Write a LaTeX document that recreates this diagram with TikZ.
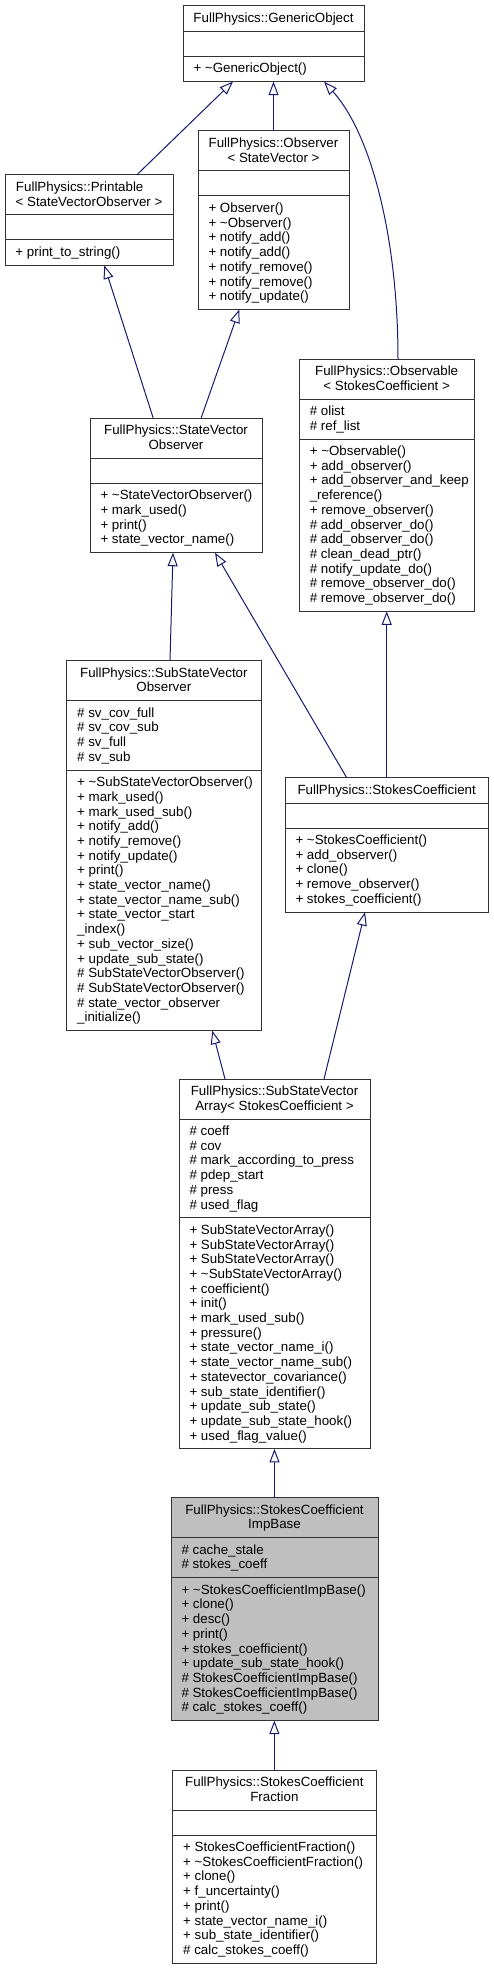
\documentclass[tikz,border=0pt]{standalone}
\usepackage{fontspec}
\setmainfont{Liberation Sans}
\usetikzlibrary{arrows.meta,calc}
\definecolor{edgeblue}{HTML}{191970}
\definecolor{impfill}{HTML}{BFBFBF}
\definecolor{boxline}{HTML}{333333}
\tikzset{
  clsbox/.style={draw=boxline, line width=1pt, inner sep=0pt, outer sep=0pt},
  sepline/.style={draw=boxline, line width=1pt},
  txt/.style={inner sep=0pt, outer sep=0pt, font=\fontsize{13.33}{14.7}\selectfont},
  inh/.style={draw=edgeblue, line width=1pt, -{Triangle[open, length=13.5pt, width=10pt]}},
}
\newcommand\umlbox[6][white]{\node[clsbox, fill=#1, minimum width=#5, minimum height=#6, anchor=north west] (#2) at (#3,#4) {};}
\newcommand\sepl[2]{\draw[sepline] ($(#1.north west)+(0,#2)$) -- ($(#1.north east)+(0,#2)$);}
\newcommand\ctitle[4]{\node[txt, anchor=base] (#1) at ($(#2.north)+(0,#3)$) {#4};}
\newcommand\members[4]{\foreach \mtext [count=\i from 0] in {#4} {\node[txt, anchor=base west] (#2\i) at ($(#1.north west)+(10.5,{#3+16.5+\i*14.7})$) {\mtext};}}
\begin{document}
\begin{tikzpicture}[x=1pt,y=-1pt]
\useasboundingbox (0,0) rectangle (493,1969);

% GenericObject
\umlbox{go}{183}{6}{181}{75.6}
\sepl{go}{25.3}\sepl{go}{50.3}
\ctitle{goT1}{go}{16.5}{FullPhysics::GenericObject}
\members{go}{goM}{50.3}{+ \textasciitilde GenericObject()}

% Printable
\umlbox{pr}{5}{175}{168}{90.3}
\sepl{pr}{40}\sepl{pr}{65}
\node[txt, anchor=base west] (prT1) at ($(pr.north west)+(11,16.5)$) {FullPhysics::Printable};
\ctitle{prT2}{pr}{31.2}{< StateVectorObserver >}
\members{pr}{prM}{65}{+ print\_to\_string()}

% Observer
\umlbox{ob}{198}{131}{151}{178.5}
\sepl{ob}{40}\sepl{ob}{65}
\ctitle{obT1}{ob}{16.5}{FullPhysics::Observer}
\ctitle{obT2}{ob}{31.2}{< StateVector >}
\members{ob}{obM}{65}{+ Observer(), + \textasciitilde Observer(), + notify\_add(), + notify\_add(), + notify\_remove(), + notify\_remove(), + notify\_update()}

% StateVectorObserver
\umlbox{svo}{90}{418.3}{172}{134.4}
\sepl{svo}{40}\sepl{svo}{65}
\ctitle{svoT1}{svo}{16.5}{FullPhysics::StateVector}
\ctitle{svoT2}{svo}{31.2}{Observer}
\members{svo}{svoM}{65}{+ \textasciitilde StateVectorObserver(), + mark\_used(), + print(), + state\_vector\_name()}

% Observable
\umlbox{obs}{299.3}{359}{174.7}{252.3}
\sepl{obs}{40}\sepl{obs}{80}
\ctitle{obsT1}{obs}{16.5}{FullPhysics::Observable}
\ctitle{obsT2}{obs}{31.2}{< StokesCoefficient >}
\members{obs}{obsA}{40}{\# olist, \# ref\_list}
\members{obs}{obsM}{80}{+ \textasciitilde Observable(), + add\_observer(), + add\_observer\_and\_keep, \_reference(), + remove\_observer(), \# add\_observer\_do(), \# add\_observer\_do(), \# clean\_dead\_ptr(), \# notify\_update\_do(), \# remove\_observer\_do(), \# remove\_observer\_do()}

% SubStateVectorObserver
\umlbox{sub}{66.7}{660.7}{194.3}{369.9}
\sepl{sub}{40}\sepl{sub}{109.4}
\ctitle{subT1}{sub}{16.5}{FullPhysics::SubStateVector}
\ctitle{subT2}{sub}{31.2}{Observer}
\members{sub}{subA}{40}{\# sv\_cov\_full, \# sv\_cov\_sub, \# sv\_full, \# sv\_sub}
\members{sub}{subM}{109.4}{+ \textasciitilde SubStateVectorObserver(), + mark\_used(), + mark\_used\_sub(), + notify\_add(), + notify\_remove(), + notify\_update(), + print(), + state\_vector\_name(), + state\_vector\_name\_sub(), + state\_vector\_start, \_index(), + sub\_vector\_size(), + update\_sub\_state(), \# SubStateVectorObserver(), \# SubStateVectorObserver(), \# state\_vector\_observer, \_initialize()}

% StokesCoefficient
\umlbox{sc}{285}{777.7}{203.3}{134.4}
\sepl{sc}{25.3}\sepl{sc}{50.3}
\ctitle{scT1}{sc}{16.5}{FullPhysics::StokesCoefficient}
\members{sc}{scM}{50.3}{+ \textasciitilde StokesCoefficient(), + add\_observer(), + clone(), + remove\_observer(), + stokes\_coefficient()}

% SubStateVectorArray
\umlbox{ssva}{179}{1079}{191}{369.9}
\sepl{ssva}{40}\sepl{ssva}{138.8}
\ctitle{ssvaT1}{ssva}{16.5}{FullPhysics::SubStateVector}
\ctitle{ssvaT2}{ssva}{31.2}{Array< StokesCoefficient >}
\members{ssva}{ssvaA}{40}{\# coeff, \# cov, \# mark\_according\_to\_press, \# pdep\_start, \# press, \# used\_flag}
\members{ssva}{ssvaM}{138.8}{+ SubStateVectorArray(), + SubStateVectorArray(), + SubStateVectorArray(), + \textasciitilde SubStateVectorArray(), + coefficient(), + init(), + mark\_used\_sub(), + pressure(), + state\_vector\_name\_i(), + state\_vector\_name\_sub(), + statevector\_covariance(), + sub\_state\_identifier(), + update\_sub\_state(), + update\_sub\_state\_hook(), + used\_flag\_value()}

% StokesCoefficientImpBase
\umlbox[impfill]{imp}{171}{1497.7}{207}{222.9}
\sepl{imp}{40}\sepl{imp}{80}
\ctitle{impT1}{imp}{16.5}{FullPhysics::StokesCoefficient}
\ctitle{impT2}{imp}{31.2}{ImpBase}
\members{imp}{impA}{40}{\# cache\_stale, \# stokes\_coeff}
\members{imp}{impM}{80}{+ \textasciitilde StokesCoefficientImpBase(), + clone(), + desc(), + print(), + stokes\_coefficient(), + update\_sub\_state\_hook(), \# StokesCoefficientImpBase(), \# StokesCoefficientImpBase(), \# calc\_stokes\_coeff()}

% StokesCoefficientFraction
\umlbox{fr}{172.7}{1770}{203.3}{193.2}
\sepl{fr}{40}\sepl{fr}{65}
\ctitle{frT1}{fr}{16.5}{FullPhysics::StokesCoefficient}
\ctitle{frT2}{fr}{31.2}{Fraction}
\members{fr}{frM}{65}{+ StokesCoefficientFraction(), + \textasciitilde StokesCoefficientFraction(), + clone(), + f\_uncertainty(), + print(), + state\_vector\_name\_i(), + sub\_state\_identifier(), \# calc\_stokes\_coeff()}

% inheritance connectors
\draw[inh] ($(pr.north west)+(131.7,0)$) -- ($(go.south west)+(50,0)$);
\draw[inh] (ob.north) -- (ob.north |- go.south);
\draw[inh] ($(obs.north west)+(98.7,0)$) .. controls (398,240) and (372,135) .. ($(go.south west)+(141,0)$);
\draw[inh] ($(svo.north west)+(63.3,0)$) -- ($(pr.south west)+(99.3,0)$);
\draw[inh] ($(svo.north west)+(111,0)$) -- ($(ob.south west)+(41.3,0)$);
\draw[inh] ($(sub.north west)+(103.3,0)$) -- ($(svo.south west)+(83,0)$);
\draw[inh] ($(sc.north west)+(61.7,0)$) -- ($(svo.south west)+(125,0)$);
\draw[inh] ($(sc.north west)+(101.7,0)$) -- ($(obs.south west)+(87.4,0)$);
\draw[inh] ($(ssva.north west)+(46,0)$) -- ($(sub.south west)+(145.6,0)$);
\draw[inh] ($(ssva.north west)+(145,0)$) -- ($(sc.south west)+(80,0)$);
\draw[inh] (imp.north) -- (imp.north |- ssva.south);
\draw[inh] (fr.north) -- (fr.north |- imp.south);
\end{tikzpicture}
\end{document}
